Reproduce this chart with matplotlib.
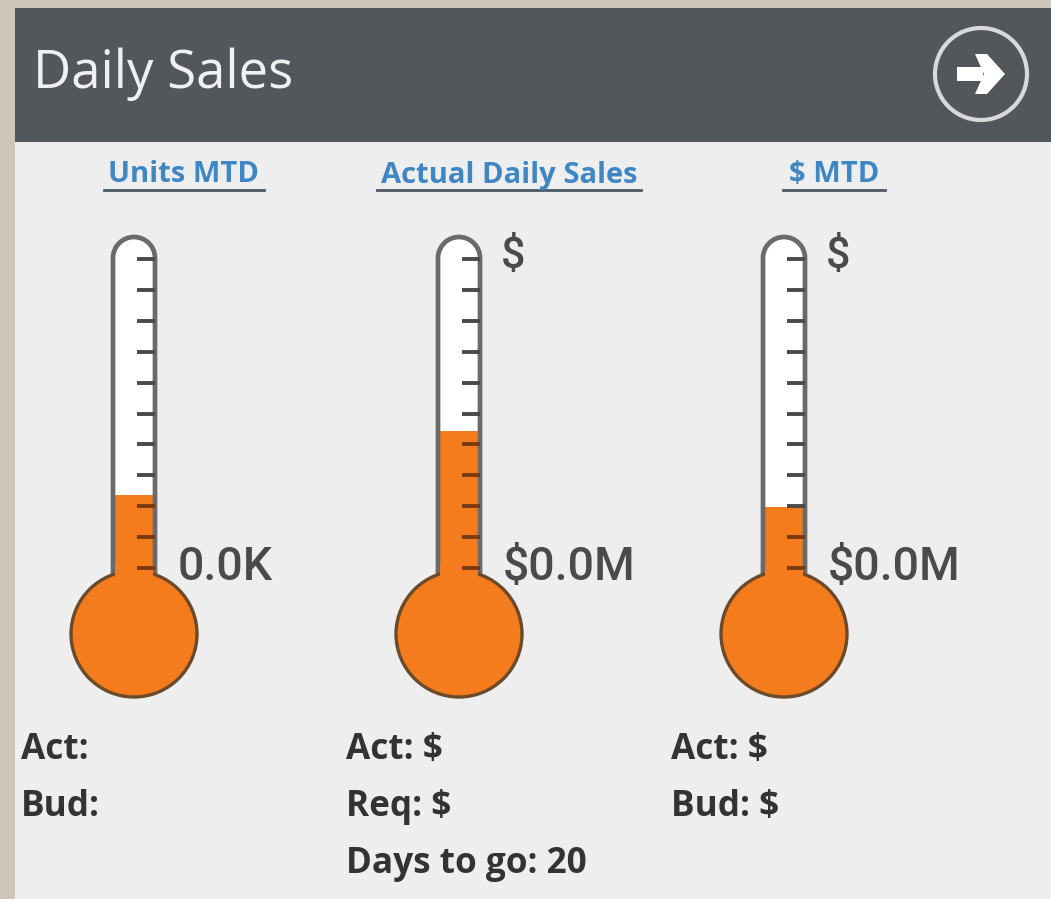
import matplotlib
matplotlib.use("Agg")
import matplotlib.pyplot as plt
from matplotlib.patches import Rectangle, Circle, Polygon
from matplotlib.path import Path
from matplotlib.patches import PathPatch

# ===================== values =====================
titles = ["Units MTD", "Actual Daily Sales", "$ MTD"]
fill_levels = [23.6, 44.3, 19.7]      # percent of tube scale
value_labels = ["0.0K", "$0.0M", "$0.0M"]
top_labels = ["", "$", "$"]
detail_lines = [
    ["Act:", "Bud:"],
    ["Act: $", "Req: $", "Days to go: 20"],
    ["Act: $", "Bud: $"],
]
scale_ticks = [0, 10, 20, 30, 40, 50, 60, 70, 80, 90, 100]
header_title = "Daily Sales"
# =======================================================================

W, H = 1051, 899
ORANGE = "#f47c1c"
LINE = "#6a6a6a"
DARK = "#53565a"
PANEL = "#eeeeee"
BLUE = "#3f86c4"
TEXT = "#4a4a4a"

centers = [134, 459, 784]
title_x = [184, 509, 834]
text_x = [21, 346, 671]
R_TUBE = 21
R_BULB = 63
Y_BULB = 634
Y_TOP = 237
Y_ZERO = 568   # pixel row of scale tick 0
Y_FULL = 259   # pixel row of scale tick 100


def scale_y(v):
    return Y_ZERO + (Y_FULL - Y_ZERO) * v / 100


def tube_path(cx):
    # open outline: up the left side, round the top, down the right side
    k = 0.5523 * R_TUBE
    yc = Y_TOP + R_TUBE
    verts = [
        (cx - R_TUBE, 590), (cx - R_TUBE, yc),
        (cx - R_TUBE, yc - k), (cx - k, Y_TOP), (cx, Y_TOP),
        (cx + k, Y_TOP), (cx + R_TUBE, yc - k), (cx + R_TUBE, yc),
        (cx + R_TUBE, 590),
    ]
    codes = [Path.MOVETO, Path.LINETO, Path.CURVE4, Path.CURVE4, Path.CURVE4,
             Path.CURVE4, Path.CURVE4, Path.CURVE4, Path.LINETO]
    return Path(verts, codes)


fig = plt.figure(figsize=(W / 100, H / 100), dpi=100, facecolor="#cfc6ba")
ax = fig.add_axes([0, 0, 1, 1])
ax.set_xlim(0, W)
ax.set_ylim(H, 0)
ax.axis("off")

# panel + header
ax.add_patch(Rectangle((15, 8), W - 15, H - 8, fc=PANEL, ec="none"))
ax.add_patch(Rectangle((15, 8), W - 15, 134, fc=DARK, ec="none"))
ax.text(33, 74, header_title, color="#eef0f2", fontsize=38, family="Open Sans",
        va="center", ha="left")

# arrow button
ax.add_patch(Circle((981, 74), 46, fc="none", ec="#d8d9da", lw=3))
ax.add_patch(Rectangle((957, 67), 26, 14, fc="white", ec="none"))
ax.add_patch(Polygon([(975, 54), (987, 54), (1005, 74), (987, 94), (975, 94), (984, 74)],
                     closed=True, fc="white", ec="none"))

for i, cx in enumerate(centers):
    # column title, underlined
    ax.text(title_x[i], 175, titles[i], color=BLUE, fontsize=21, fontweight="bold",
            family="Open Sans", ha="center", va="center")
    half = {0: 80, 1: 132, 2: 51}[i]
    ax.plot([title_x[i] - half, title_x[i] + half], [190, 190], color="#4b5a68", lw=2)

    # tube body, white then orange up to the level
    ax.add_patch(PathPatch(tube_path(cx), fc="white", ec="none", zorder=2))
    level_y = scale_y(fill_levels[i])
    ax.add_patch(Rectangle((cx - R_TUBE, level_y), 2 * R_TUBE, 600 - level_y,
                           fc=ORANGE, ec="none", zorder=3))
    ax.add_patch(PathPatch(tube_path(cx), fc="none", ec=LINE, lw=3.4, zorder=4))

    # bulb
    ax.add_patch(Circle((cx, Y_BULB), R_BULB, fc=ORANGE, ec="#6b4a2a", lw=2.4, zorder=6))
    ax.add_patch(Rectangle((cx - R_TUBE + 2, 565), 2 * R_TUBE - 4, 30, fc=ORANGE,
                           ec="none", zorder=7))

    # ticks on the right wall
    for t in scale_ticks:
        y = scale_y(t)
        col = "#7a3a10" if y > level_y else "#4a4a4a"
        ax.plot([cx + 3, cx + R_TUBE], [y, y], color=col, lw=2.8,
                solid_capstyle="butt", zorder=8)

    # labels beside the gauge
    ax.text(cx + 44, 567, value_labels[i], color=TEXT, fontsize=33.5, family="Roboto",
            fontweight="medium", ha="left", va="center", zorder=9)
    if top_labels[i]:
        ax.text(cx + 42, 257, top_labels[i], color=TEXT, fontsize=31, family="Roboto",
                fontweight="medium", ha="left", va="center", zorder=9)

    # details below
    for j, line in enumerate(detail_lines[i]):
        ax.text(text_x[i], 750 + j * 57, line, color="#333333", fontsize=25.3,
                fontweight="bold", family="Open Sans", ha="left", va="center")

fig.savefig("out.png", dpi=100, facecolor=fig.get_facecolor())
